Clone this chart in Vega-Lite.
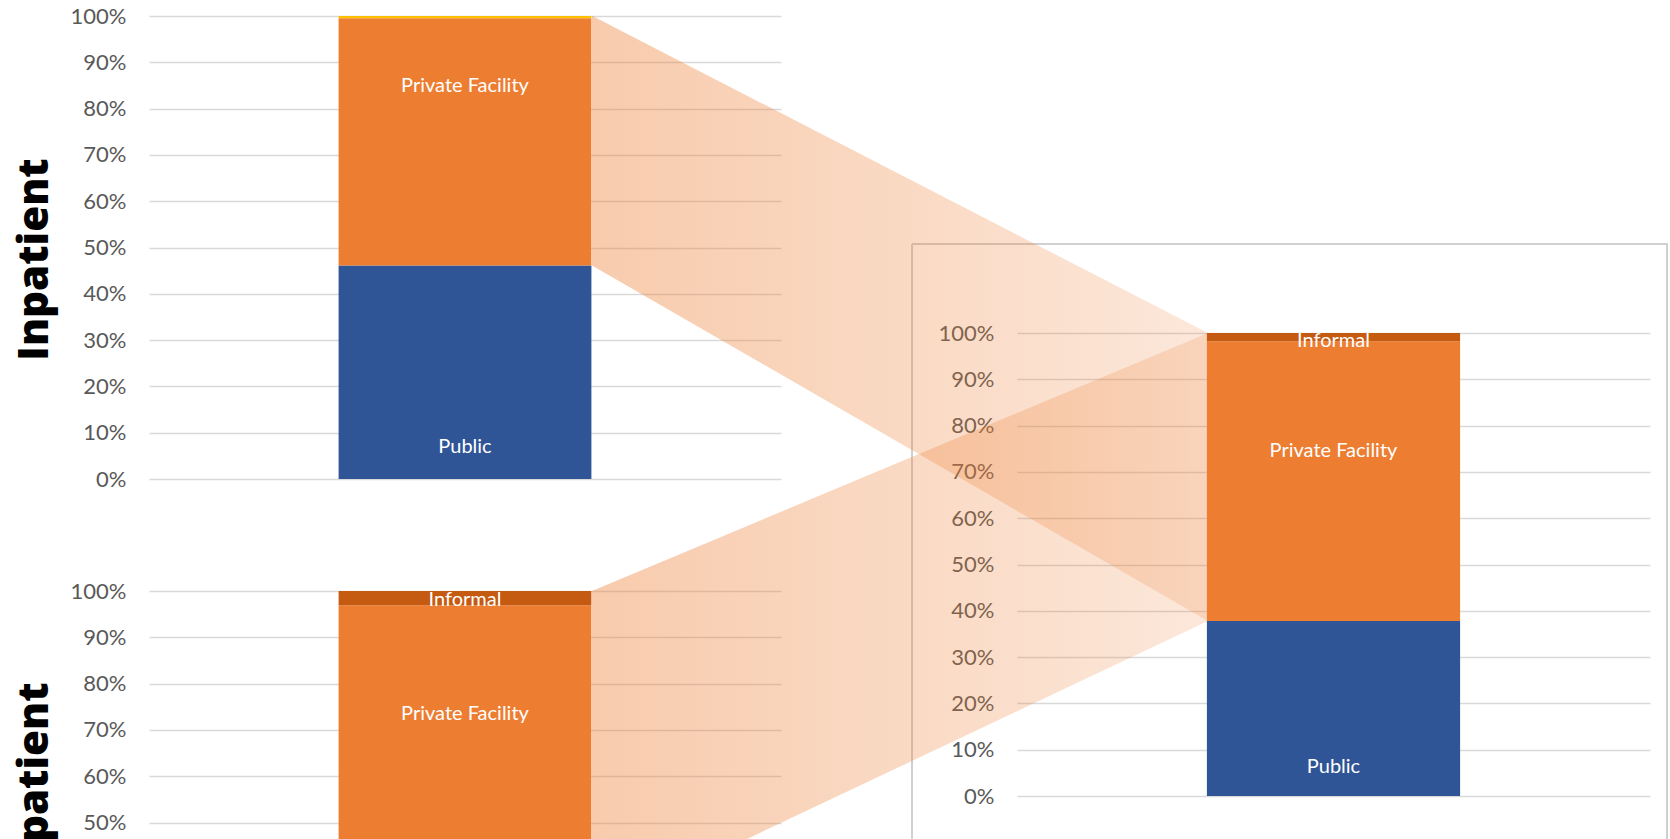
{
  "$schema": "https://vega.github.io/schema/vega-lite/v6.json",
  "background": "white",
  "padding": {"left": 13, "top": 5, "right": 0, "bottom": 0},
  "bounds": "flush",
  "spacing": 763,
  "datasets": {
    "bars": [
      {"panel": "Inpatient", "segment": "Public", "value": 46.1},
      {"panel": "Inpatient", "segment": "Private Facility", "value": 53.4},
      {"panel": "Inpatient", "segment": "Other", "value": 0.5},
      {"panel": "Outpatient", "segment": "Public", "value": 30.6},
      {"panel": "Outpatient", "segment": "Private Facility", "value": 66.3},
      {"panel": "Outpatient", "segment": "Informal", "value": 3.1},
      {"panel": "Total", "segment": "Public", "value": 37.8},
      {"panel": "Total", "segment": "Private Facility", "value": 60.4},
      {"panel": "Total", "segment": "Informal", "value": 1.8}
    ],
    "labels": [
      {"panel": "Inpatient", "segment": "Private Facility", "at": 84.9},
      {"panel": "Inpatient", "segment": "Public", "at": 6.9},
      {"panel": "Outpatient", "segment": "Informal", "at": 98.1},
      {"panel": "Outpatient", "segment": "Private Facility", "at": 73.5},
      {"panel": "Total", "segment": "Informal", "at": 98.3},
      {"panel": "Total", "segment": "Private Facility", "at": 74.6},
      {"panel": "Total", "segment": "Public", "at": 6.3}
    ],
    "flows": [
      {"flow": "Inpatient", "end": "from", "top": 168.5, "bottom": 114.6},
      {"flow": "Inpatient", "end": "to", "top": 100, "bottom": 37.8},
      {"flow": "Outpatient", "end": "from", "top": 44.3, "bottom": -25.1},
      {"flow": "Outpatient", "end": "to", "top": 100, "bottom": 37.8}
    ]
  },
  "config": {
    "view": {"stroke": null},
    "axis": {
      "domain": false,
      "ticks": false,
      "tickSize": 0,
      "labelFont": "Lato",
      "labelFontSize": 22,
      "labelColor": "#595959",
      "labelPadding": 23,
      "gridColor": "#D9D9D9",
      "gridWidth": 1.5,
      "titleFont": "Open Sans",
      "titleFontWeight": 800,
      "titleFontSize": 42,
      "titleColor": "#000000"
    },
    "text": {"font": "Lato", "fontSize": 20, "color": "white"}
  },
  "hconcat": [
    {
      "bounds": "flush",
      "spacing": 112,
      "vconcat": [
        {
          "width": 632,
          "height": 463,
          "data": {"name": "bars"},
          "transform": [{"filter": "datum.panel === 'Inpatient'"}],
          "layer": [
            {
              "mark": {"type": "bar"},
              "encoding": {
                "x": {"field": "panel", "type": "nominal", "axis": null, "scale": {"paddingInner": 0.6, "paddingOuter": 0.3}},
                "y": {
                  "field": "value", "type": "quantitative", "stack": "zero",
                  "scale": {"domain": [0, 100]},
                  "axis": {
                    "values": [0, 10, 20, 30, 40, 50, 60, 70, 80, 90, 100],
                    "labelExpr": "datum.value + '%'",
                    "grid": true,
                    "title": "Inpatient",
                    "titleAngle": 270,
                    "titleX": -102,
                    "titleY": 243,
                    "titleBaseline": "alphabetic",
                    "titleAlign": "center"
                  }
                },
                "color": {
                  "field": "segment", "type": "nominal", "legend": null,
                  "scale": {"domain": ["Public", "Private Facility", "Informal", "Other"], "range": ["#2F5597", "#ED7D31", "#C55A11", "#FFC000"]}
                },
                "order": {"field": "segment", "sort": "descending"}
              }
            },
            {
              "data": {"name": "labels"},
              "transform": [{"filter": "datum.panel === 'Inpatient'"}],
              "mark": {"type": "text"},
              "encoding": {
                "x": {"field": "panel", "type": "nominal", "axis": null, "scale": {"paddingInner": 0.6, "paddingOuter": 0.3}},
                "y": {"field": "at", "type": "quantitative", "scale": {"domain": [0, 100]}},
                "text": {"field": "segment", "type": "nominal"}
              }
            }
          ]
        },
        {
          "width": 632,
          "height": 248,
          "data": {"name": "bars"},
          "transform": [{"filter": "datum.panel === 'Outpatient'"}],
          "layer": [
            {
              "mark": {"type": "bar", "clip": true},
              "encoding": {
                "x": {"field": "panel", "type": "nominal", "axis": null, "scale": {"paddingInner": 0.6, "paddingOuter": 0.3}},
                "y": {
                  "field": "value", "type": "quantitative", "stack": "zero",
                  "scale": {"domain": [0, 100], "range": [463, 0]},
                  "axis": {
                    "values": [50, 60, 70, 80, 90, 100],
                    "labelExpr": "datum.value + '%'",
                    "grid": true,
                    "title": "Outpatient",
                    "titleAngle": 270,
                    "titleX": -102,
                    "titleY": 91,
                    "titleBaseline": "alphabetic",
                    "titleAlign": "right"
                  }
                },
                "color": {
                  "field": "segment", "type": "nominal", "legend": null,
                  "scale": {"domain": ["Public", "Private Facility", "Informal", "Other"], "range": ["#2F5597", "#ED7D31", "#C55A11", "#FFC000"]}
                },
                "order": {"field": "segment", "sort": "descending"}
              }
            },
            {
              "data": {"name": "labels"},
              "transform": [{"filter": "datum.panel === 'Outpatient'"}],
              "mark": {"type": "text"},
              "encoding": {
                "x": {"field": "panel", "type": "nominal", "axis": null, "scale": {"paddingInner": 0.6, "paddingOuter": 0.3}},
                "y": {"field": "at", "type": "quantitative", "scale": {"domain": [0, 100], "range": [463, 0]}},
                "text": {"field": "segment", "type": "nominal"}
              }
            }
          ]
        }
      ]
    },
    {
      "bounds": "flush",
      "spacing": 0,
      "vconcat": [
        {
          "width": 755,
          "height": 228,
          "data": {"values": [{"spacer": 1}]},
          "mark": {"type": "point", "opacity": 0},
          "encoding": {}
        },
        {
          "width": 755,
          "height": 595,
          "view": {"stroke": "#D0D0D0", "strokeWidth": 2, "strokeDash": [1350, 755, 595, 0]},
          "resolve": {"scale": {"x": "independent"}, "axis": {"y": "independent"}},
          "layer": [
            {
              "data": {"name": "flows"},
              "mark": {
                "type": "area",
                "fill": {
                  "gradient": "linear",
                  "stops": [
                    {"offset": 0, "color": "rgba(237,125,49,0.40)"},
                    {"offset": 1, "color": "rgba(237,125,49,0.18)"}
                  ]
                }
              },
              "encoding": {
                "x": {"field": "end", "type": "ordinal", "axis": null, "scale": {"type": "point", "domain": ["from", "to"], "range": [-320, 296], "padding": 0}},
                "y": {"field": "top", "type": "quantitative", "axis": null, "scale": {"domain": [0, 100], "range": [552, 89]}},
                "y2": {"field": "bottom"},
                "detail": {"field": "flow", "type": "nominal"}
              }
            },
            {
              "data": {"name": "bars"},
              "transform": [{"filter": "datum.panel === 'Total'"}],
              "mark": {"type": "bar"},
              "encoding": {
                "x": {"field": "panel", "type": "nominal", "axis": null, "scale": {"range": [105, 738], "paddingInner": 0.6, "paddingOuter": 0.3}},
                "y": {
                  "field": "value", "type": "quantitative", "stack": "zero",
                  "scale": {"domain": [0, 100], "range": [552, 89]},
                  "axis": {
                    "values": [0, 10, 20, 30, 40, 50, 60, 70, 80, 90, 100],
                    "labelExpr": "datum.value + '%'",
                    "grid": true,
                    "title": null,
                    "offset": -105
                  }
                },
                "color": {
                  "field": "segment", "type": "nominal", "legend": null,
                  "scale": {"domain": ["Public", "Private Facility", "Informal", "Other"], "range": ["#2F5597", "#ED7D31", "#C55A11", "#FFC000"]}
                },
                "order": {"field": "segment", "sort": "descending"}
              }
            },
            {
              "data": {"name": "labels"},
              "transform": [{"filter": "datum.panel === 'Total'"}],
              "mark": {"type": "text"},
              "encoding": {
                "x": {"field": "panel", "type": "nominal", "axis": null, "scale": {"range": [105, 738], "paddingInner": 0.6, "paddingOuter": 0.3}},
                "y": {"field": "at", "type": "quantitative", "axis": null, "scale": {"domain": [0, 100], "range": [552, 89]}},
                "text": {"field": "segment", "type": "nominal"}
              }
            }
          ]
        }
      ]
    }
  ]
}
